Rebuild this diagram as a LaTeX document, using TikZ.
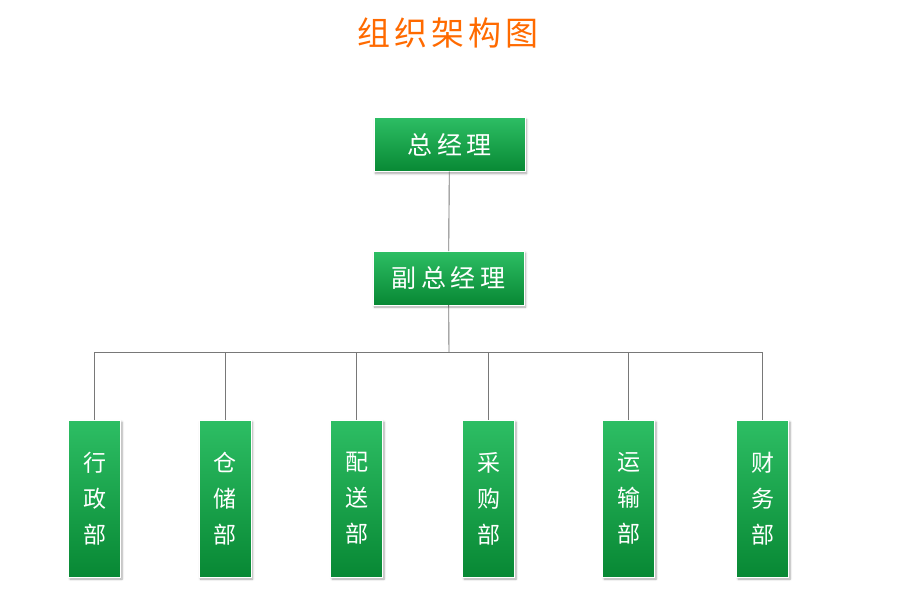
\documentclass[tikz,border=0pt]{standalone}
\usepackage{fontspec}
\setmainfont{Noto Sans CJK SC}
\newfontfamily\cjk[LetterSpace=18]{Noto Sans CJK SC}
\newfontfamily\cjktitle[LetterSpace=12]{Noto Sans CJK SC}
\usetikzlibrary{positioning,shadows.blur}
\definecolor{boxtop}{RGB}{45,190,100}
\definecolor{boxbot}{RGB}{8,136,52}
\definecolor{titleorange}{RGB}{255,106,0}
\definecolor{linegray}{RGB}{120,120,120}

\begin{document}
\begin{tikzpicture}[x=1pt,y=1pt]
\tikzstyle{box}=[rectangle,draw=white,line width=0.8pt,
top color=boxtop,bottom color=boxbot,text=white,
inner sep=0pt,outer sep=0pt,
blur shadow={shadow xshift=1.5pt,shadow yshift=-2pt,shadow blur steps=6,shadow opacity=35}]
\tikzstyle{head}=[box,minimum width=151pt,minimum height=54pt,
font=\cjk\fontsize{25}{30}\selectfont]
\tikzstyle{dept}=[box,minimum width=52pt,minimum height=157pt,
align=center,font=\cjk\fontsize{23}{36}\selectfont]
\tikzstyle{link}=[draw=linegray,line width=0.9pt]
\useasboundingbox (0,0) rectangle (898,-614);

\node[text=titleorange,font=\cjktitle\fontsize{33}{40}\selectfont] at (448,-33) (t) {组织架构图};

\node[head] at (449.5,-144.5) (0) {总经理};
\node[head] at (448.5,-278) (1) {副总经理};
\coordinate (b) at (449,-352.5);

\node[dept] at (94.5,-498.5) (2) {行\\政\\部};
\node[dept] at (225,-498.5) (3) {仓\\储\\部};
\node[dept] at (356.5,-498.5) (4) {配\\送\\部};
\node[dept] at (488.5,-498.5) (5) {采\\购\\部};
\node[dept] at (628.5,-498.5) (6) {运\\输\\部};
\node[dept] at (762.5,-498.5) (7) {财\\务\\部};

\path[link] (0) -- (1) ;
\path[link] (1) -- (b) ;
\path[link] (b) -| (2) ;
\path[link] (b) -| (3) ;
\path[link] (b) -| (4) ;
\path[link] (b) -| (5) ;
\path[link] (b) -| (6) ;
\path[link] (b) -| (7) ;

\end{tikzpicture}
\end{document}
